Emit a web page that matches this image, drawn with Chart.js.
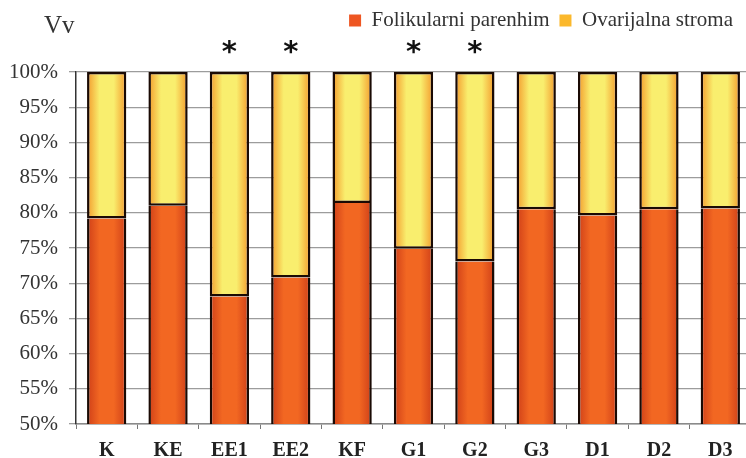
<!DOCTYPE html>
<html>
<head>
<meta charset="utf-8">
<script src="https://cdn.jsdelivr.net/npm/chart.js@4"></script>
<style>
  html, body { margin: 0; padding: 0; background: #fff; overflow: hidden; }
  #wrap { width: 751px; height: 458px; position: relative; }
</style>
</head>
<body>
<div id="wrap"><canvas id="chart"></canvas></div>
<script>
const groups = ['K', 'KE', 'EE1', 'EE2', 'KF', 'G1', 'G2', 'G3', 'D1', 'D2', 'D3'];
const parenhim = [79.2, 81.0, 68.1, 70.8, 81.4, 74.9, 73.1, 80.5, 79.6, 80.5, 80.6];
const stroma = [20.8, 19.0, 31.9, 29.2, 18.6, 25.1, 26.9, 19.5, 20.4, 19.5, 19.4];
const starred = [false, false, true, true, false, true, true, false, false, false, false];
const seriesNames = ['Folikularni parenhim', 'Ovarijalna stroma'];
const yTicks = [50, 55, 60, 65, 70, 75, 80, 85, 90, 95, 100];

const serif = "'Liberation Serif', 'DejaVu Serif', serif";
const barShare = 0.64;

// horizontal shading across each bar, dark at the edges
function shade(edge, mid) {
  return (ctx) => {
    const chart = ctx.chart;
    const x = chart.scales.x;
    if (!x || ctx.dataIndex === undefined) return mid;
    const cx = x.getPixelForValue(ctx.dataIndex);
    const half = x.width / groups.length * barShare / 2;
    if (!isFinite(cx) || !isFinite(half) || half <= 0) return mid;
    const g = chart.ctx.createLinearGradient(cx - half, 0, cx + half, 0);
    g.addColorStop(0, edge);
    g.addColorStop(0.32, mid);
    g.addColorStop(0.68, mid);
    g.addColorStop(1, edge);
    return g;
  };
}

const legendColors = ['#ee5622', '#fbb82c'];

const legendSpace = {
  id: 'legendSpace',
  beforeInit(chart) {
    const fit = chart.legend.fit;
    chart.legend.fit = function () {
      fit.call(this);
      this.height = 72;
      this.lineWidths[0] += 8;
    };
  }
};

const extras = {
  id: 'extras',
  afterDraw(chart) {
    const { ctx, scales } = chart;
    ctx.save();
    ctx.fillStyle = '#333';
    ctx.font = '25px ' + serif;
    ctx.textBaseline = 'alphabetic';
    ctx.textAlign = 'left';
    ctx.fillText('Vv', 44, 33);

    ctx.fillStyle = '#111';
    ctx.font = "bold 29px 'DejaVu Sans', sans-serif";
    ctx.textAlign = 'center';
    starred.forEach((s, i) => {
      if (!s) return;
      ctx.fillText('*', scales.x.getPixelForValue(i), 61);
    });
    ctx.restore();
  }
};

new Chart(document.getElementById('chart'), {
  type: 'bar',
  data: {
    labels: groups,
    datasets: [
      {
        label: seriesNames[0],
        data: parenhim,
        backgroundColor: shade('#cf3f18', '#f26722'),
        borderColor: '#1a0a04',
        borderWidth: 2.5,
        borderSkipped: 'end',
        barPercentage: barShare,
        categoryPercentage: 1
      },
      {
        label: seriesNames[1],
        data: stroma,
        backgroundColor: shade('#f39a2c', '#f9ee6e'),
        borderColor: '#1a0a04',
        borderWidth: 2.5,
        borderSkipped: false,
        barPercentage: barShare,
        categoryPercentage: 1
      }
    ]
  },
  options: {
    responsive: true,
    maintainAspectRatio: false,
    animation: false,
    layout: { padding: 0 },
    plugins: {
      tooltip: { enabled: false },
      legend: {
        position: 'top',
        align: 'end',
        labels: {
          boxWidth: 12,
          boxHeight: 12,
          padding: 10,
          color: '#333',
          font: { family: serif, size: 21 },
          generateLabels: (chart) =>
            Chart.defaults.plugins.legend.labels.generateLabels(chart).map((l, i) => ({
              ...l, fillStyle: legendColors[i], strokeStyle: legendColors[i], lineWidth: 0
            }))
        }
      }
    },
    scales: {
      x: {
        stacked: true,
        offset: true,
        afterFit: (s) => { s.height = 34; },
        border: { display: true, color: '#8a8a8a', width: 1.5 },
        grid: { display: true, drawOnChartArea: false, drawTicks: true, tickLength: 5, color: '#777', offset: true },
        ticks: {
          color: '#222',
          padding: 10,
          font: { family: serif, size: 20, weight: 'bold' }
        }
      },
      y: {
        stacked: true,
        min: 50,
        max: 100,
        afterFit: (s) => { s.width = 76; },
        afterBuildTicks: (s) => { s.ticks = yTicks.map(v => ({ value: v })); },
        border: { display: true, color: '#333', width: 1.5 },
        grid: { color: '#9c9c9c', lineWidth: 1.3, tickLength: 7 },
        ticks: {
          color: '#333',
          padding: 11,
          font: { family: serif, size: 21 },
          callback: (v) => v + '%'
        }
      }
    }
  },
  plugins: [legendSpace, extras]
});
</script>
</body>
</html>
